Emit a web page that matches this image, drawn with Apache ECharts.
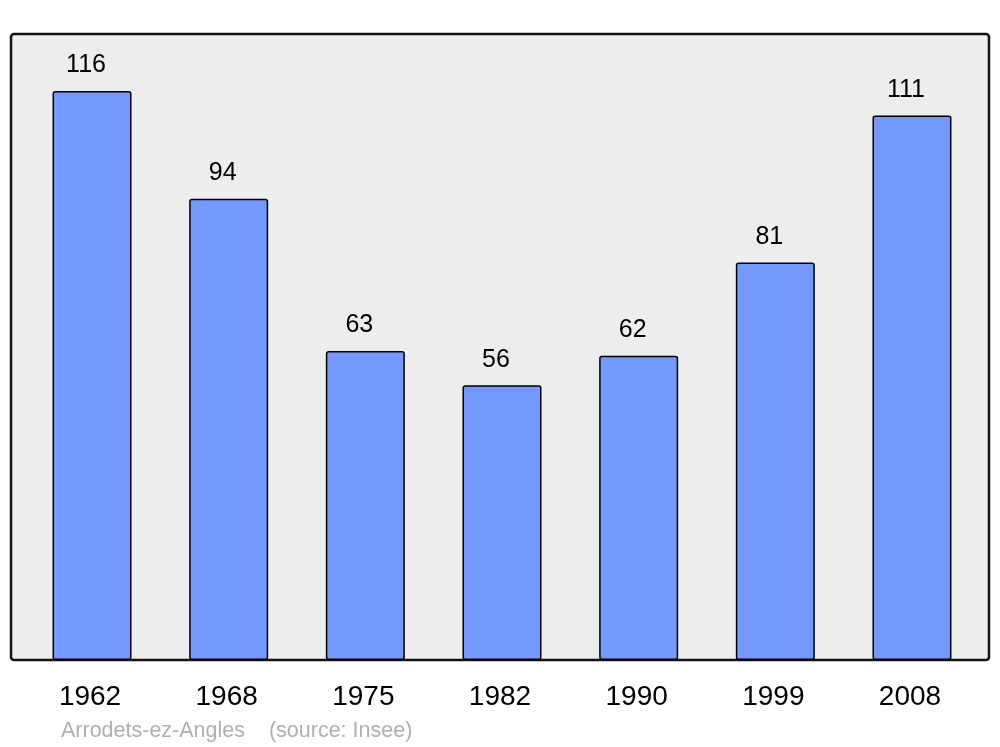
<!DOCTYPE html>
<html><head><meta charset="utf-8">
<script src="https://cdn.jsdelivr.net/npm/echarts@6/dist/echarts.min.js"></script>
<style>html,body{margin:0;padding:0;background:#fff}#c{width:1000px;height:747px}</style>
</head><body><div id="c"></div>
<script>
const years = ['1962','1968','1975','1982','1990','1999','2008'];
const population = [116, 94, 63, 56, 62, 81, 111];
const footerText = 'Arrodets-ez-Angles    (source: Insee)';

const chart = echarts.init(document.getElementById('c'), null, {renderer:'canvas'});
chart.setOption({
  animation:false,
  backgroundColor:'#ffffff',
  graphic:[
    {type:'rect', z:-10, shape:{x:11,y:34,width:978,height:626,r:3},
     style:{fill:'#ededed',stroke:'#111',lineWidth:2.5}},
    {type:'text', left:61, top:720,
     style:{text:footerText, fill:'#b0b0b0', font:'21.5px "Liberation Sans", Arial, sans-serif'}}
  ],
  grid:{left:23.7, right:19.7, top:34, bottom:87},
  xAxis:{type:'category', data:years,
    axisLine:{show:false}, axisTick:{show:false},
    axisLabel:{color:'#000', fontSize:28, fontFamily:'"Liberation Sans", Arial, sans-serif', margin:23, padding:[0,4,0,0]}},
  yAxis:{type:'value', min:0, max:127.6, show:false, splitLine:{show:false}},
  series:[{
    type:'bar', data:population, barWidth:79,
    itemStyle:{color:'#7399ff', borderColor:'#000', borderWidth:1.5, borderRadius:2},
    label:{show:true, position:'top', distance:13, offset:[-6,0], color:'#000', fontSize:25,
      fontFamily:'"Liberation Sans", Arial, sans-serif'}
  }]
});
</script></body></html>
